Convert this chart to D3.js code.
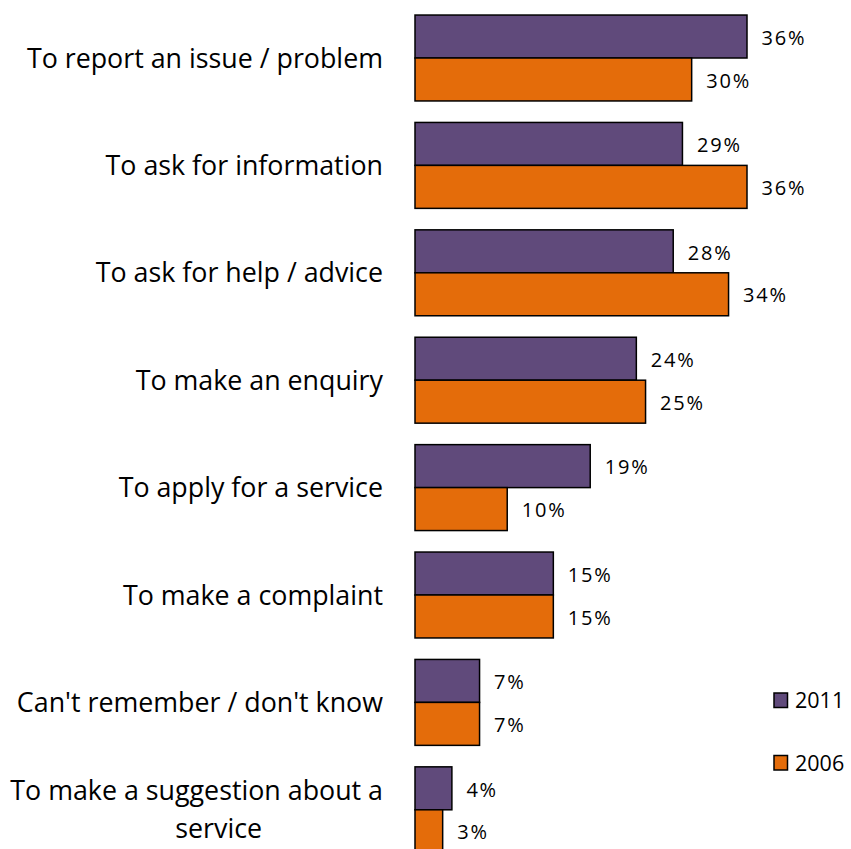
<!DOCTYPE html>
<html>
<head>
<meta charset="utf-8">
<script src="https://cdn.jsdelivr.net/npm/d3@7"></script>
<style>
  html, body { margin: 0; padding: 0; background: #fff; }
  svg { display: block; font-family: "Open Sans", Lato, sans-serif; }
</style>
</head>
<body>
<svg id="chart" width="851" height="849"></svg>
<script>
// Reasons for contact, share of respondents (%)
const categories = [
  "To report an issue / problem",
  "To ask for information",
  "To ask for help / advice",
  "To make an enquiry",
  "To apply for a service",
  "To make a complaint",
  "Can't remember / don't know",
  "To make a suggestion about a service"
];
const values2011 = [36, 29, 28, 24, 19, 15, 7, 4];
const values2006 = [30, 36, 34, 25, 10, 15, 7, 3];
const seriesNames = ["2011", "2006"];
const seriesColors = ["#604A7B", "#E46C0A"];

const svg = d3.select("#chart");

const x = d3.scaleLinear().domain([0, 40]).range([415, 415 + 40 * (332 / 36)]);
const y = d3.scaleBand().domain(categories).range([4.3, 4.3 + 8 * 107.4])
  .paddingInner(0.2).paddingOuter(0.1);
const sub = d3.scaleBand().domain(seriesNames).range([0, y.bandwidth()]);

const data = categories.map((c, i) => ({
  cat: c,
  vals: [
    { s: "2011", v: values2011[i], color: seriesColors[0] },
    { s: "2006", v: values2006[i], color: seriesColors[1] }
  ]
}));

const groups = svg.append("g").selectAll("g").data(data).join("g")
  .attr("transform", d => `translate(0,${y(d.cat)})`);

groups.selectAll("rect").data(d => d.vals).join("rect")
  .attr("x", x(0))
  .attr("y", d => sub(d.s))
  .attr("width", d => x(d.v) - x(0))
  .attr("height", sub.bandwidth())
  .attr("fill", d => d.color)
  .attr("stroke", "#000")
  .attr("stroke-width", 1.5);

groups.selectAll("text.val").data(d => d.vals).join("text")
  .attr("class", "val")
  .attr("x", d => x(d.v) + 14.5)
  .attr("y", d => sub(d.s) + sub.bandwidth() / 2 + 1)
  .attr("dy", "0.36em")
  .attr("font-size", 20)
  .attr("letter-spacing", 1.8)
  .attr("fill", "#000")
  .text(d => d.v + "%");

// Category labels, right-aligned and wrapped when too long
const labelX = 383;
const maxW = 385;
groups.append("text")
  .attr("class", "cat")
  .attr("x", labelX)
  .attr("text-anchor", "end")
  .attr("font-size", 26.8)
  .attr("fill", "#000")
  .each(function(d) {
    const t = d3.select(this);
    const words = d.cat.split(" ");
    const lines = [];
    let line = [];
    const tmp = t.append("tspan");
    words.forEach(w => {
      line.push(w);
      tmp.text(line.join(" "));
      if (tmp.node().getComputedTextLength() > maxW && line.length > 1) {
        line.pop();
        lines.push(line.join(" "));
        line = [w];
      }
    });
    lines.push(line.join(" "));
    tmp.remove();
    const lh = 38;
    const mid = y.bandwidth() / 2;
    lines.forEach((l, i) => {
      t.append("tspan")
        .attr("x", labelX)
        .attr("y", mid + (i - (lines.length - 1) / 2) * lh)
        .attr("dy", "0.36em")
        .text(l);
    });
    if (lines.length > 1) {
      // continuation lines sit centred under the first one
      const w0 = t.select("tspan").node().getComputedTextLength();
      t.selectAll("tspan").filter((_, i) => i > 0)
        .attr("text-anchor", "middle").attr("x", labelX - w0 / 2 + 22);
    }
  });

// Legend
const legend = svg.append("g").selectAll("g").data(seriesNames).join("g")
  .attr("transform", (d, i) => `translate(774,${693 + i * 62.5})`);
legend.append("rect")
  .attr("width", 13.5).attr("height", 14.5)
  .attr("fill", (d, i) => seriesColors[i])
  .attr("stroke", "#000").attr("stroke-width", 1.5);
legend.append("text")
  .attr("x", 21).attr("y", 7.5).attr("dy", "0.36em")
  .attr("font-size", 21.5).attr("fill", "#000")
  .text(d => d);
</script>
</body>
</html>
